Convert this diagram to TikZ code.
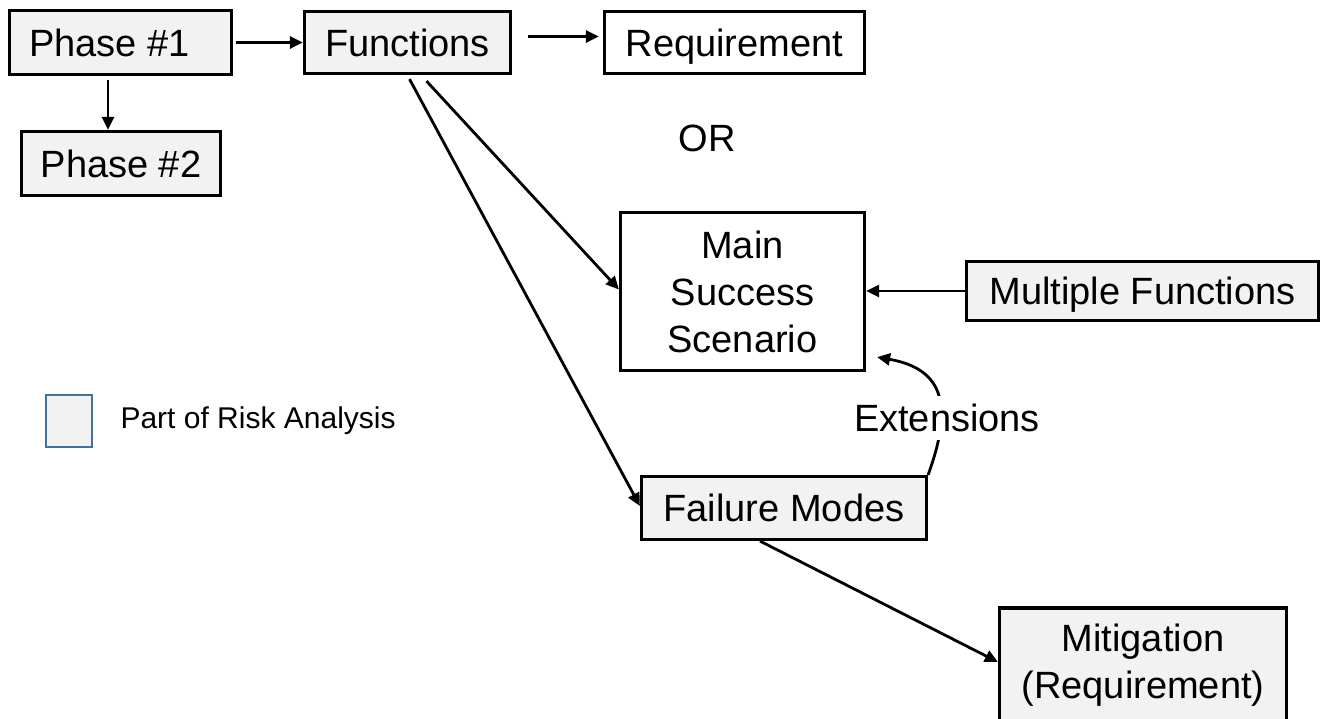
\documentclass[tikz,border=0pt]{standalone}
\usepackage{fontspec}
\setmainfont{Liberation Sans}
\usetikzlibrary{arrows.meta,calc}

\definecolor{boxgray}{HTML}{F2F2F2}
\definecolor{legendblue}{HTML}{41719C}

\begin{document}
\begin{tikzpicture}[x=1pt,y=-1pt,
        box/.style={draw,line width=3.2pt,fill=boxgray,inner sep=0pt,align=center,
                    font=\fontsize{38}{47}\selectfont},
        plainbox/.style={box,fill=white},
        link/.style={line width=2.8pt,-{Triangle[length=13pt,width=12pt]}}]
    \useasboundingbox (0,0) rectangle (1323,718);
    \clip (0,0) rectangle (1323,718);

    %% Boxes of the chain.
    % top row
    \node[box,minimum width=222pt,minimum height=64pt] (phaseone) at (120.5,42.5)
        {Phase \#1\hspace*{22pt}};
    \node[box,minimum width=199pt,minimum height=64pt] (phasetwo) at (121,163.5) {Phase \#2};
    \node[box,minimum width=206pt,minimum height=62pt] (functions) at (407.5,42.5) {Functions};
    \node[plainbox,text depth=0pt,minimum width=260pt,minimum height=62pt] (requirement)
        at (734.5,42.5) {Requirement};
    \node[font=\fontsize{38}{47}\selectfont] (ortext) at (707,138) {OR};

    % middle and bottom
    \node[plainbox,minimum width=244pt,minimum height=158pt] (mss) at (742.5,291.5)
        {Main\\Success\\Scenario};
    \node[box,text depth=0pt,minimum width=352pt,minimum height=59pt] (multiple)
        at (1142.5,291) {Multiple Functions};
    \node[box,minimum width=285pt,minimum height=63pt] (failure) at (784,508) {Failure Modes};
    \node[box,minimum width=287pt,minimum height=114pt] (mitigation) at (1143,665)
        {Mitigation\\(Requirement)};

    % Legend.
    \node[draw=legendblue,line width=2pt,fill=boxgray,minimum width=46pt,minimum height=52pt]
        (legendbox) at (69,421) {};
    \node[anchor=west,font=\fontsize{30}{36}\selectfont] (legendtext) at (117,421)
        {Part of Risk Analysis};

    %% Connectors.
    \draw[link,shorten <=3pt] (phaseone) -- (functions);
    \draw[link,shorten <=4pt] ([xshift=-12.5pt]phaseone.south)
        -- ([xshift=-12.5pt]phaseone.south |- phasetwo.north);
    \draw[link,shorten <=16pt,shorten >=4pt] ([yshift=6pt]functions.east)
        -- ([yshift=6pt]requirement.west);
    \draw[link] ([xshift=19pt,yshift=-6pt]functions.south) -- ([yshift=2pt]mss.west);
    \draw[link] ([xshift=2pt,yshift=-4pt]functions.south) -- ([yshift=2pt]failure.west);
    \draw[link] (multiple.west) -- (mss.east |- multiple.west);
    \draw[link] ([xshift=-24pt]failure.south) -- ([yshift=3pt]mitigation.west);

    % Extensions loop back up to the scenario.
    \coordinate (exttip) at ([shift={(11,-15)}]mss.south east);
    \draw[link] (failure.north east) to[out=70,in=-10,looseness=1.4] (exttip);
    \node[fill=white,inner xsep=2pt,inner ysep=8pt,font=\fontsize{38}{47}\selectfont]
        (extensions) at (947,418) {Extensions};
\end{tikzpicture}
\end{document}
